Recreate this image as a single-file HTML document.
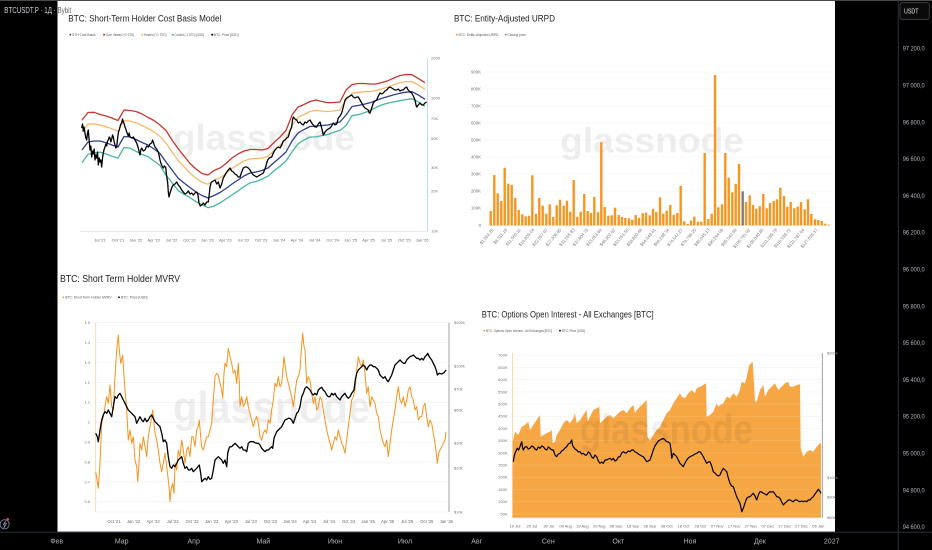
<!DOCTYPE html>
<html><head><meta charset="utf-8">
<style>
html,body{margin:0;padding:0;background:#000;width:932px;height:550px;overflow:hidden}
svg{display:block}
text{font-family:"Liberation Sans","DejaVu Sans",sans-serif}
</style></head>
<body>
<svg xmlns="http://www.w3.org/2000/svg" width="932" height="550" viewBox="0 0 932 550">
<rect x="0" y="0" width="932" height="550" fill="#000"/>
<rect x="0" y="0" width="932" height="1" fill="#4a4a4a"/>

<!-- white pasted panel -->
<rect x="57.5" y="1" width="777.5" height="530.7" fill="#fff"/>

<!-- ============ CHART 1: STH Cost Basis ============ -->
<text x="68.3" y="21.3" font-size="9" fill="#1e1e1e" textLength="153" lengthAdjust="spacingAndGlyphs">BTC: Short-Term Holder Cost Basis Model</text>
<g font-size="3.5" fill="#555">
<circle cx="70.3" cy="34.7" r="0.9" fill="#2d3f8f"/><text x="72" y="36" textLength="23.5" lengthAdjust="spacingAndGlyphs">STH Cost Basis</text>
<rect x="103.2" y="33.8" width="1.8" height="1.8" fill="#c8372d"/><text x="106" y="36" textLength="28" lengthAdjust="spacingAndGlyphs">Over Heated (+2 STD)</text>
<rect x="141.4" y="33.8" width="1.8" height="1.8" fill="#fbb868"/><text x="144" y="36" textLength="22.5" lengthAdjust="spacingAndGlyphs">Heated (+1 STD)</text>
<rect x="171.8" y="33.8" width="1.8" height="1.8" fill="#45b5a5"/><text x="174.5" y="36" textLength="29.5" lengthAdjust="spacingAndGlyphs">Cooled (-1 STD) [USD]</text>
<rect x="211.4" y="33.8" width="1.8" height="1.8" fill="#000"/><text x="214" y="36" textLength="24.5" lengthAdjust="spacingAndGlyphs">BTC: Price [USD]</text>
</g>
<line x1="80" y1="231.5" x2="427" y2="231.5" stroke="#e3e3e3" stroke-width="0.7"/>
<line x1="427.5" y1="58" x2="427.5" y2="231.5" stroke="#a7dde2" stroke-width="0.8"/>
<g font-size="4" fill="#777">
<text x="431" y="59.4">200K</text><text x="431" y="99.4">100K</text><text x="431" y="120">70K</text><text x="431" y="140">50K</text><text x="431" y="169">30K</text><text x="431" y="192.4">20K</text><text x="431" y="232.4">10K</text>
</g>
<g font-size="4" fill="#666" text-anchor="middle">
<text x="100" y="241.4">Jul '21</text><text x="117.9" y="241.4">Oct '21</text><text x="135.8" y="241.4">Jan '22</text><text x="153.7" y="241.4">Apr '22</text><text x="171.6" y="241.4">Jul '22</text><text x="189.5" y="241.4">Oct '22</text><text x="207.4" y="241.4">Jan '23</text><text x="225.3" y="241.4">Apr '23</text><text x="243.2" y="241.4">Jul '23</text><text x="261.1" y="241.4">Oct '23</text><text x="279" y="241.4">Jan '24</text><text x="296.9" y="241.4">Apr '24</text><text x="314.8" y="241.4">Jul '24</text><text x="332.7" y="241.4">Oct '24</text><text x="350.6" y="241.4">Jan '25</text><text x="368.5" y="241.4">Apr '25</text><text x="386.4" y="241.4">Jul '25</text><text x="404.3" y="241.4">Oct '25</text><text x="422.2" y="241.4">Jan '26</text>
</g>
<text x="173" y="150" font-size="36" font-weight="bold" fill="#000" fill-opacity="0.065" textLength="182" lengthAdjust="spacingAndGlyphs">glassnode</text>
<g fill="none" stroke-width="1.3" stroke-linejoin="round">
<polyline stroke="#c8372d" points="82,120 88,112.5 94,112.3 100,114.5 106,116 112,118 118,120.5 124,110 130,110.5 136,111.5 142,114 148,117.5 154,120.5 160,125 166,130.5 172,140 178,148.5 184,156 190,163.5 196,169 202,173.5 208,175 214,170.5 220,168 226,163.5 232,158 238,154 244,151 250,149.5 256,149.5 262,150 268,148.5 274,142.5 280,137 286,130.5 292,115 298,107 304,104.5 310,101.5 316,100 322,101.5 328,102.7 334,102.5 340,102 346,90 352,84.5 358,83.5 364,83.5 370,84 376,84 382,82.5 388,80.7 394,78 400,75.5 406,74.5 412,74.7 418,78.3 425,82.7"/>
<polyline stroke="#fbb868" points="82,132 88,124.3 94,123.8 100,125.1 106,126.7 112,128.8 118,131.1 124,120.6 130,121.1 136,122.7 142,125.4 148,128.5 154,131.9 160,136.4 166,143.1 172,152 178,160.3 184,166.8 190,173.1 196,178.2 202,182.3 208,184.2 214,180.5 220,177.8 226,173.5 232,168.4 238,164.4 244,161 250,158.9 256,158.5 262,158.2 268,156.3 274,150.5 280,145.2 286,139.1 292,125.4 298,117.4 304,114.5 310,111.5 316,110.4 322,111.1 328,111.6 334,110.9 340,110 346,100 352,93.3 358,92.3 364,91.8 370,91.5 376,90.6 382,88.8 388,87 394,84.7 400,82.6 406,81.6 412,81.5 418,84.9 425,89.3"/>
<polyline stroke="#2d3f8f" points="82,150 88,142 94,141 100,141 106,142.7 112,145 118,147 124,136.5 130,137 136,139.5 142,142.5 148,145 154,149 160,153.5 166,162 172,170 178,178 184,183 190,187.5 196,192 202,195.5 208,198 214,195.5 220,192.5 226,188.5 232,184 238,180 244,176 250,173 256,172 262,170.5 268,168 274,162.5 280,157.5 286,152 292,141 298,133 304,129.5 310,126.5 316,126 322,125.5 328,125 334,123.5 340,122 346,115 352,106.5 358,105.5 364,104.2 370,102.8 376,100.5 382,98.2 388,96.5 394,94.8 400,93.2 406,92.2 412,91.7 418,94.8 425,99.3"/>
<polyline stroke="#45b5a5" points="82,162.6 88,154.4 94,153.1 100,152.1 106,153.9 112,156.3 118,158.1 124,147.6 130,148.1 136,151.3 142,154.5 148,156.6 154,161 160,165.5 166,175.2 172,182.6 178,190.4 184,194.3 190,197.6 196,201.7 202,204.7 208,207.7 214,206 220,202.8 226,199 232,194.9 238,190.9 244,186.5 250,182.9 256,181.5 262,179.1 268,176.2 274,170.9 280,166.1 286,161 292,151.9 298,143.9 304,140 310,137 316,136.9 322,135.6 328,134.4 334,132.3 340,130.4 346,125.5 352,115.7 358,114.7 364,112.9 370,110.7 376,107.4 382,104.8 388,103.1 394,101.9 400,100.6 406,99.6 412,98.8 418,101.7 425,106.3"/>
<polyline stroke="#000" stroke-width="1.3" points="81.7,128 82.5,124 83.3,131 84,127 85,133 85.8,138 86.7,140 87.5,133 88.3,130 89.2,141 90,150 90.8,146 91.7,157 92.5,151 93.3,154 94.2,149 95,160 95.8,155 96.7,158 97.5,152 98.3,165 99.2,158 100,162 100.8,160 101.7,167 102.5,158 103.3,153 104.2,149 105,147 105.8,144 106.7,146 107.5,141 108.3,140 109.2,137 110,138 110.8,142 111.7,139 112.5,135 113.3,137 114.2,142 115,145 115.8,148 116.7,147 117.5,139 118.3,133 119.2,130 120,127 120.8,124 121.7,123 122.5,119 123.3,122 124.2,124 125,127 125.8,129 126.7,132 127.5,134 128.3,136 129.2,133 130,137 131.7,138 133.3,137 135,140 136.7,143 138.3,148 139.2,152 140,155 140.8,150 141.7,148 143.3,151 145,150 146.7,146 148.3,147 150,144 151.7,143 152.5,140 153.3,142 154.2,145 155,147 156.7,149 158.3,152 159.2,156 160,160 160.8,163 161.7,165 162.5,167 163.3,168 164.2,166 165,167 165.7,167 166.5,175 167.7,183 168.3,192 169,197 170,193 171,190 172,187 173.3,185 175,184 176.7,182 178.3,185 180,187 181.7,190 183.3,192 185,194 186.7,193 188.3,191 190,194 191.7,193 193.3,195 195,193 196.7,192 198,195 199,203 200.3,206 201.7,205 203.3,203 205,205 206.7,202 208.3,202 209.2,195 210,187 211,183 211.7,182 213.3,181 215,180 216.7,184 218.3,182 220,188 221.7,184 223.3,178 225,175 226.7,172 228.3,170 230,168 231.7,171 233.3,172 235,174 236.7,175 238.3,177 240,177 241.7,172 243.3,168 245,167 246.7,167 248.3,168 250,170 251.7,173 253.3,175 255,176 256.7,177 258.3,176 260,175 261.7,174 263.3,173 264.5,170 265.7,167 266.7,163 267.7,160 269.2,158 271.7,157 273.3,153 275,150 276.7,148 278.3,147 280,148 281.7,145 283.3,141 285,140 286.7,138 288.3,137 290,131 291.7,127 292.5,120 293.3,117 295,119 296.7,120 298.3,123 300,122 301.7,124 303.3,125 305,122 306.7,123 308.3,121 310,120 311.7,123 313.3,125 315,127 316.7,127 318.3,124 320,122 321.7,128 323.3,135 325,132 326.7,130 328.3,129 330,128 331.7,126 333.3,123 335,125 336.7,124 338.3,118 340,116 341.7,113 343.3,107 345,100 346.7,98 348.3,97 350,96 351.7,95 353.3,97 355,98 356.7,97 358.3,97 360,100 361.7,103 363.3,106 365,108 366.7,109 368.3,110 369.2,113 370,113 371.7,108 373.3,103 375,101 376.7,100 378.3,96 380,93 381.7,94 383.3,93 385,91 386.7,90 388.3,88 390,87 391.7,88 393.3,89 395,90 396.7,90 398.3,89 400,91 401.7,90 403.3,90 405,88 406.7,87 407.5,89 408.3,90 410,92 411.7,93 413.3,96 415,100 416,105 416.7,107 418.3,105 420,103 421.7,105 423.3,105 425,103 426.7,102"/>
</g>

<!-- ============ CHART 2: URPD ============ -->
<text x="454" y="21.3" font-size="9" fill="#1e1e1e" textLength="101" lengthAdjust="spacingAndGlyphs">BTC: Entity-Adjusted URPD</text>
<g font-size="3.5" fill="#555">
<circle cx="456.7" cy="34.7" r="0.9" fill="#f7931a"/><text x="458.5" y="36" textLength="40" lengthAdjust="spacingAndGlyphs">BTC: Entity-Adjusted URPD</text>
<circle cx="505.7" cy="34.7" r="0.9" fill="#888"/><text x="507.5" y="36" textLength="18.5" lengthAdjust="spacingAndGlyphs">Closing price</text>
</g>
<g stroke="#efefef" stroke-width="0.6">
<line x1="485" y1="72" x2="832" y2="72"/><line x1="485" y1="89" x2="832" y2="89"/><line x1="485" y1="106" x2="832" y2="106"/><line x1="485" y1="123" x2="832" y2="123"/><line x1="485" y1="140" x2="832" y2="140"/><line x1="485" y1="157" x2="832" y2="157"/><line x1="485" y1="174" x2="832" y2="174"/><line x1="485" y1="191" x2="832" y2="191"/><line x1="485" y1="208" x2="832" y2="208"/><line x1="485" y1="225.5" x2="832" y2="225.5"/>
</g>
<g font-size="4.3" fill="#777" text-anchor="end">
<text x="481" y="73.5">900K</text><text x="481" y="90.5">800K</text><text x="481" y="107.5">700K</text><text x="481" y="124.5">600K</text><text x="481" y="141.5">500K</text><text x="481" y="158.5">400K</text><text x="481" y="175.5">300K</text><text x="481" y="192.5">200K</text><text x="481" y="209.5">100K</text><text x="481" y="227">0</text>
</g>
<text x="560" y="152.5" font-size="35" font-weight="bold" fill="#000" fill-opacity="0.065" textLength="184" lengthAdjust="spacingAndGlyphs">glassnode</text>
<g fill="#f7961f">
<rect x="489.5" y="211" width="2.4" height="14.5"/><rect x="493.1" y="175" width="2.4" height="50.5"/><rect x="496.5" y="193.3" width="2.4" height="32.2"/><rect x="500.1" y="201" width="2.4" height="24.5"/><rect x="503.5" y="167.7" width="2.4" height="57.8"/><rect x="507.1" y="183.7" width="2.4" height="41.8"/><rect x="510.5" y="185" width="2.4" height="40.5"/><rect x="514.1" y="198" width="2.4" height="27.5"/><rect x="517.5" y="210" width="2.4" height="15.5"/><rect x="521.1" y="214.3" width="2.4" height="11.2"/>
<rect x="524.5" y="216.3" width="2.4" height="9.2"/><rect x="527.8" y="215.7" width="2.4" height="9.8"/><rect x="531.1" y="175.3" width="2.4" height="50.2"/><rect x="534.8" y="214" width="2.4" height="11.5"/><rect x="538.1" y="198" width="2.4" height="27.5"/><rect x="541.5" y="205.7" width="2.4" height="19.8"/><rect x="545.1" y="213.7" width="2.4" height="11.8"/><rect x="548.5" y="204.3" width="2.4" height="21.2"/><rect x="552.1" y="217" width="2.4" height="8.5"/><rect x="555.5" y="205.3" width="2.4" height="20.2"/>
<rect x="558.8" y="199.7" width="2.4" height="25.8"/><rect x="562.5" y="205.7" width="2.4" height="19.8"/><rect x="565.8" y="200.7" width="2.4" height="24.8"/><rect x="569.1" y="211.7" width="2.4" height="13.8"/><rect x="572.5" y="180" width="2.4" height="45.5"/><rect x="576.1" y="216.7" width="2.4" height="8.8"/><rect x="579.5" y="211.7" width="2.4" height="13.8"/><rect x="583.1" y="194" width="2.4" height="31.5"/><rect x="586.5" y="211" width="2.4" height="14.5"/><rect x="589.8" y="213" width="2.4" height="12.5"/>
<rect x="593.1" y="197" width="2.4" height="28.5"/><rect x="596.8" y="212.3" width="2.4" height="13.2"/><rect x="600.1" y="142.3" width="2.4" height="83.2"/><rect x="603.5" y="207" width="2.4" height="18.5"/><rect x="607.1" y="215.7" width="2.4" height="9.8"/><rect x="610.5" y="215.3" width="2.4" height="10.2"/><rect x="613.8" y="207.7" width="2.4" height="17.8"/><rect x="617.5" y="215" width="2.4" height="10.5"/><rect x="620.8" y="217" width="2.4" height="8.5"/><rect x="624.1" y="218" width="2.4" height="7.5"/>
<rect x="627.8" y="218.3" width="2.4" height="7.2"/><rect x="631.1" y="219.7" width="2.4" height="5.8"/><rect x="634.5" y="215" width="2.4" height="10.5"/><rect x="637.8" y="217.7" width="2.4" height="7.8"/><rect x="641.5" y="213.3" width="2.4" height="12.2"/><rect x="644.8" y="212.7" width="2.4" height="12.8"/><rect x="648.5" y="215.3" width="2.4" height="10.2"/><rect x="651.8" y="209" width="2.4" height="16.5"/><rect x="655.1" y="212" width="2.4" height="13.5"/><rect x="658.8" y="197.3" width="2.4" height="28.2"/>
<rect x="662.1" y="213.7" width="2.4" height="11.8"/><rect x="665.5" y="210.7" width="2.4" height="14.8"/><rect x="669.1" y="205" width="2.4" height="20.5"/><rect x="672.5" y="214.7" width="2.4" height="10.8"/><rect x="676.1" y="213" width="2.4" height="12.5"/><rect x="679.5" y="186" width="2.4" height="39.5"/><rect x="683.1" y="221.3" width="2.4" height="4.2"/><rect x="686.5" y="224" width="2.4" height="1.5"/><rect x="689.8" y="220.7" width="2.4" height="4.8"/><rect x="693.1" y="216.7" width="2.4" height="8.8"/>
<rect x="696.8" y="221.7" width="2.4" height="3.8"/><rect x="700.1" y="221.7" width="2.4" height="3.8"/><rect x="703.5" y="153" width="2.4" height="72.5"/><rect x="707.1" y="219" width="2.4" height="6.5"/><rect x="710.5" y="213.7" width="2.4" height="11.8"/><rect x="713.8" y="75" width="2.4" height="150.5"/><rect x="717.1" y="207.3" width="2.4" height="18.2"/><rect x="720.8" y="204.3" width="2.4" height="21.2"/><rect x="724.1" y="153" width="2.4" height="72.5"/><rect x="727.5" y="177.7" width="2.4" height="47.8"/>
<rect x="731.1" y="192.3" width="2.4" height="33.2"/><rect x="734.5" y="184" width="2.4" height="41.5"/><rect x="737.8" y="164" width="2.4" height="61.5"/><rect x="741.5" y="191.3" width="2.4" height="34.2" fill="#7d7d7d"/><rect x="744.8" y="202" width="2.4" height="23.5"/><rect x="748.5" y="195.3" width="2.4" height="30.2"/><rect x="751.8" y="205" width="2.4" height="20.5"/><rect x="755.1" y="208.7" width="2.4" height="16.8"/><rect x="758.5" y="206.3" width="2.4" height="19.2"/><rect x="762.1" y="194" width="2.4" height="31.5"/>
<rect x="765.5" y="208.3" width="2.4" height="17.2"/><rect x="768.8" y="203" width="2.4" height="22.5"/><rect x="772.5" y="201" width="2.4" height="24.5"/><rect x="775.8" y="199.3" width="2.4" height="26.2"/><rect x="779.1" y="187.7" width="2.4" height="37.8"/><rect x="782.8" y="196" width="2.4" height="29.5"/><rect x="786.1" y="206.7" width="2.4" height="18.8"/><rect x="789.5" y="202" width="2.4" height="23.5"/><rect x="793.1" y="208.3" width="2.4" height="17.2"/><rect x="796.5" y="206.7" width="2.4" height="18.8"/>
<rect x="799.8" y="202" width="2.4" height="23.5"/><rect x="803.5" y="209.3" width="2.4" height="16.2"/><rect x="806.8" y="199.3" width="2.4" height="26.2"/><rect x="810.1" y="214" width="2.4" height="11.5"/><rect x="813.8" y="219.3" width="2.4" height="6.2"/><rect x="817.1" y="220" width="2.4" height="5.5"/><rect x="820.5" y="221" width="2.4" height="4.5"/><rect x="824.1" y="223.7" width="2.4" height="1.8"/><rect x="827.5" y="224.7" width="2.4" height="0.8"/>
</g>
<g font-size="4.3" fill="#777" text-anchor="end">
<text transform="translate(494,230) rotate(-50)">$1,062.25</text>
<text transform="translate(507.5,230) rotate(-50)">$6,311.18</text>
<text transform="translate(521,230) rotate(-50)">$11,560.11</text>
<text transform="translate(534.5,230) rotate(-50)">$16,809.04</text>
<text transform="translate(548,230) rotate(-50)">$22,057.97</text>
<text transform="translate(561.5,230) rotate(-50)">$27,306.90</text>
<text transform="translate(575,230) rotate(-50)">$32,555.83</text>
<text transform="translate(588.5,230) rotate(-50)">$37,804.76</text>
<text transform="translate(602,230) rotate(-50)">$43,053.69</text>
<text transform="translate(615.5,230) rotate(-50)">$48,302.62</text>
<text transform="translate(629,230) rotate(-50)">$53,551.55</text>
<text transform="translate(642.5,230) rotate(-50)">$58,800.48</text>
<text transform="translate(656,230) rotate(-50)">$64,049.41</text>
<text transform="translate(669.5,230) rotate(-50)">$69,298.34</text>
<text transform="translate(683,230) rotate(-50)">$74,547.27</text>
<text transform="translate(696.5,230) rotate(-50)">$79,796.20</text>
<text transform="translate(710,230) rotate(-50)">$85,045.13</text>
<text transform="translate(723.5,230) rotate(-50)">$90,294.06</text>
<text transform="translate(737,230) rotate(-50)">$95,542.99</text>
<text transform="translate(750.5,230) rotate(-50)">$100,791.92</text>
<text transform="translate(764,230) rotate(-50)">$106,040.85</text>
<text transform="translate(777.5,230) rotate(-50)">$111,289.78</text>
<text transform="translate(791,230) rotate(-50)">$116,538.71</text>
<text transform="translate(804.5,230) rotate(-50)">$121,787.64</text>
<text transform="translate(818,230) rotate(-50)">$127,036.57</text>
</g>

<!-- ============ CHART 3: STH MVRV ============ -->
<text x="60" y="282" font-size="10" fill="#1e1e1e" textLength="120" lengthAdjust="spacingAndGlyphs">BTC: Short Term Holder MVRV</text>
<g font-size="3.5" fill="#555">
<circle cx="63.3" cy="297.3" r="0.9" fill="#f7931a"/><text x="65.2" y="298.6" textLength="46.5" lengthAdjust="spacingAndGlyphs">BTC: Short Term Holder MVRV</text>
<circle cx="119" cy="297.3" r="0.9" fill="#000"/><text x="121" y="298.6" textLength="26.5" lengthAdjust="spacingAndGlyphs">BTC: Price [USD]</text>
</g>
<g stroke="#eeeeee" stroke-width="0.6">
<line x1="95" y1="322.7" x2="447" y2="322.7"/><line x1="95" y1="342.6" x2="447" y2="342.6"/><line x1="95" y1="362.5" x2="447" y2="362.5"/><line x1="95" y1="382.4" x2="447" y2="382.4"/><line x1="95" y1="402.3" x2="447" y2="402.3"/><line x1="95" y1="422.2" x2="447" y2="422.2"/><line x1="95" y1="442.1" x2="447" y2="442.1"/><line x1="95" y1="462" x2="447" y2="462"/><line x1="95" y1="481.9" x2="447" y2="481.9"/><line x1="95" y1="501.8" x2="447" y2="501.8"/><line x1="95" y1="512" x2="447" y2="512"/>
</g>
<line x1="95.7" y1="322.5" x2="95.7" y2="512" stroke="#fbd09a" stroke-width="0.8"/>
<line x1="449" y1="322.5" x2="449" y2="512" stroke="#8a8a8a" stroke-width="0.8"/>
<g font-size="4" fill="#777" text-anchor="end">
<text x="90" y="324.1">1.5</text><text x="90" y="344">1.4</text><text x="90" y="363.9">1.3</text><text x="90" y="383.8">1.2</text><text x="90" y="403.7">1.1</text><text x="90" y="423.6">1</text><text x="90" y="443.5">0.9</text><text x="90" y="463.4">0.8</text><text x="90" y="483.3">0.7</text><text x="90" y="503.2">0.6</text>
</g>
<g font-size="4" fill="#777">
<text x="454" y="324.1">$200k</text><text x="454" y="367.4">$100k</text><text x="454" y="390.4">$70k</text><text x="454" y="411.4">$50k</text><text x="454" y="444.4">$30k</text><text x="454" y="469.4">$20k</text><text x="454" y="513.4">$10k</text>
</g>
<g font-size="4.2" fill="#666" text-anchor="middle">
<text x="114" y="523.2">Oct '21</text><text x="133.5" y="523.2">Jan '22</text><text x="153.1" y="523.2">Apr '22</text><text x="172.6" y="523.2">Jul '22</text><text x="192.2" y="523.2">Oct '22</text><text x="211.7" y="523.2">Jan '23</text><text x="231.3" y="523.2">Apr '23</text><text x="250.8" y="523.2">Jul '23</text><text x="270.4" y="523.2">Oct '23</text><text x="290" y="523.2">Jan '24</text><text x="309.5" y="523.2">Apr '24</text><text x="329" y="523.2">Jul '24</text><text x="348.6" y="523.2">Oct '24</text><text x="368.1" y="523.2">Jan '25</text><text x="387.7" y="523.2">Apr '25</text><text x="407.2" y="523.2">Jul '25</text><text x="426.8" y="523.2">Oct '25</text><text x="446.3" y="523.2">Jan '26</text>
</g>
<text x="173" y="422" font-size="44" font-weight="bold" fill="#000" fill-opacity="0.065" textLength="197" lengthAdjust="spacingAndGlyphs">glassnode</text>
<polyline fill="none" stroke="#f7931a" stroke-width="1" stroke-linejoin="round" points="95.7,471.7 98.3,488.3 100,463.3 101.7,423.3 103.3,416.7 105,406.7 106.7,396.7 108.3,403.3 110,385 111.7,406.7 113.3,410 115,376.7 116.7,350 118.3,335 119.3,350 120.7,363.3 122.7,355 124,376.7 125,390 126.7,410 128.3,440 130,430 131.7,443.3 133.3,436.7 135,460 136.7,466.7 137.7,481.7 139,463.3 140,443.3 141.7,450 143.3,436.7 145,446.7 146.7,456.7 148.3,436.7 150,426.7 151.7,416.7 152.7,410 154,423.3 155,433.3 156.7,440 158.3,450 160,463.3 161.7,471.7 163.3,463.3 165,453.3 166.7,466.7 168.3,480 169.3,490 170,501.7 171,490 172.7,483.3 174,493.3 175,463.3 176.7,470 178.3,450 180,456.7 181.7,440 183.3,450 185,463.3 186.7,450 188.3,446.7 190,456.7 191.7,436.7 193.3,436.7 195,446.7 196.7,430 198.3,426.7 199.3,420 200.7,436.7 201.7,446.7 203.3,450 205,443.3 206.7,436.7 208.3,436.7 210,430 211.7,423.3 213.3,400 215,376.7 216.7,373.3 218.3,375 220,383.3 221.7,390 222.7,398.3 224,373.3 225,363.3 226.7,366.7 228.3,348.3 230,356.7 231.7,363.3 233.3,373.3 235,370 236.7,383.3 238.3,363.3 239.3,383.3 240,406.7 241.7,396.7 243.3,406.7 245,403.3 246.7,396.7 248.3,406.7 250,413.3 251.7,420 253.3,426.7 255,420 256.7,416.7 258.3,423.3 260,436.7 261.7,440 263.3,433.3 265,430 266.7,433.3 268.3,420 270,423.3 271.7,410 273.3,400 275,383.3 276.7,386.7 278.3,376.7 280,386.7 281.7,383.3 284,356.7 285.3,366.7 286.7,376.7 288.3,383.3 290,390 291.7,396.7 293.3,406.7 295,393.3 296.7,380 298.3,376.7 300,370 301.3,350 302.7,333.3 304,346.7 305,350 306,370 306.7,383.3 308.3,376.7 310,380 311.7,393.3 313.3,403.3 315,396.7 316.7,410 318.3,406.7 320,396.7 321.7,400 323.3,410 325,420 326.7,430 328.3,436.7 330,443.3 331.7,450 333.3,443.3 335,436.7 336.7,440 338.3,430 340,436.7 341.7,443.3 343.3,446.7 345,453.3 346.7,440 348.3,426.7 350,413.3 351.7,400 353.3,396.7 355,390 356.7,370 358.3,356.7 360,363.3 361.7,366.7 363.3,360 365,373.3 366.7,393.3 368.3,386.7 370,406.7 371.7,396.7 373.3,400 375,403.3 376.7,413.3 378.3,416.7 380,430 381.7,436.7 383.3,443.3 385,446.7 386.7,440 388.3,456.7 390,443.3 391.7,430 393.3,420 395,410 396.7,396.7 398.3,386.7 400,400 401.7,403.3 403.3,396.7 405,406.7 406.7,400 408.3,390 410,386.7 411.7,396.7 413.3,400 415,410 416.7,406.7 418.3,420 420,416.7 421.7,416.7 423.3,406.7 425,403.3 426.7,416.7 428.3,426.7 430,420 431.7,423.3 433.3,433.3 435,443.3 436.7,456.7 437.3,463.3 438.7,453.3 440,450 441.7,446.7 443.3,443.3 445,440 446,431.7"/>
<polyline fill="none" stroke="#000" stroke-width="1.3" stroke-linejoin="round" points="95.7,433.3 97.3,436.7 98.3,441.7 100,430 101.7,420 103.3,415 105,411.7 106.7,413.3 108.3,410 110,413.3 111.7,416.7 113.3,406.7 115,396.7 116.7,398.3 118.3,395 120,393.3 121.7,396.7 123.3,400 125,403.3 126.7,406.7 128.3,410 130,411.7 131.7,413.3 133.3,415 135,416.7 136.7,423.3 138.3,420 140,416.7 141.7,420 143.3,421.7 145,418.3 146.7,421.7 148.3,420 150,416.7 151.7,415 153.3,418.3 155,421.7 156.7,423.3 158.3,425 160,426.7 161.7,433.3 163.3,441.7 165,440 166.7,443.3 168.3,456.7 170,466.7 171.7,468.3 173.3,465 175,466.7 176.7,463.3 178.3,460 180,458.3 181.7,456.7 183.3,463.3 185,468.3 186.7,466.7 188.3,470 190,470 191.7,468.3 193.3,471.7 195,470 196.7,468.3 199.3,465 200.7,473.3 201.7,481.7 203.3,480 205,478.3 206.7,480 208.3,476.7 210,479.3 211.7,478.3 213.3,470 215,460 216.7,458.3 218.3,456.7 220,458.3 221.7,460 223.3,463.3 225,460 226.7,466.7 227.7,453.3 229,448.3 230,446.7 231.7,446.7 233.3,445 235,443.3 236.7,445 238.3,446.7 240,448.3 241.7,446.7 243.3,450 245,450 246.7,451.7 248.3,443.3 250,441.7 251.7,441.7 253.3,441.7 255,442.7 256.7,443.3 258.3,443.3 260,445 261.7,448.3 263.3,450 265,451.7 266.7,450 268.3,450 270,448.3 271.7,446.7 272.7,448.3 274,438.3 275.3,435 276.7,431.7 278.3,430 280,428.3 281.7,426.7 283.3,423.3 285,420 286.7,419.3 288.3,418.3 290,418.3 291.7,420 293.3,423.3 295,418.3 296.7,413.3 298.3,411.7 300,406.7 301.7,396.7 303.3,393.3 305,388.3 306.7,386.7 308.3,388.3 310,390 311.7,393.3 313.3,395 315,393.3 316.7,395 318.3,390 320,388.3 321.7,387.3 323.3,390 325,391.7 326.7,395 328.3,396.7 330,396.7 331.7,393.3 333.3,395 335,393.3 336.7,396.7 338.3,398.3 340,400 341.7,396.7 343.3,395 345,393.3 346.7,396.7 348.3,398.3 350,396.7 351.7,393.3 354,390 355.3,380 356.7,373.3 358.3,370 360,368.3 361.7,366.7 363.3,365 365,366.7 366.7,370 368.3,366.7 370,365 371.7,365 373.3,366.7 375,366.7 376.7,368.3 378.3,370 380,375 381.7,376.7 383.3,378.3 385,376.7 386.7,380 388.3,381.7 390,378.3 391.7,375 393.3,370 395,365 396.7,363.3 398.3,361.7 400,360 401.7,361.7 403.3,363.3 405,363.3 406.7,360 408.3,358.3 410,356.7 411.7,356 413.3,355 415,356.7 416.7,358.3 418.3,358.3 420,360 421.7,358.3 423.3,360 425,356.7 426.7,355 427.7,353.3 429.3,356.7 431.7,360 433.3,363.3 435,366.7 436.7,371.7 437.3,375 439.3,373.3 441.7,374 444,372.7 446,370"/>

<!-- ============ CHART 4: Options OI ============ -->
<text x="481.7" y="317.5" font-size="9.5" fill="#1e1e1e" textLength="172" lengthAdjust="spacingAndGlyphs">BTC: Options Open Interest - All Exchanges [BTC]</text>
<g font-size="3.5" fill="#555">
<circle cx="484.3" cy="330.7" r="0.9" fill="#f7931a"/><text x="486.2" y="332" textLength="66" lengthAdjust="spacingAndGlyphs">BTC: Options Open Interest - All Exchanges [BTC]</text>
<circle cx="560" cy="330.7" r="0.9" fill="#000"/><text x="562" y="332" textLength="23" lengthAdjust="spacingAndGlyphs">BTC: Price [USD]</text>
</g>
<g stroke="#f0f0f0" stroke-width="0.6">
<line x1="512" y1="355.3" x2="822" y2="355.3"/><line x1="512" y1="367.5" x2="822" y2="367.5"/><line x1="512" y1="379.7" x2="822" y2="379.7"/><line x1="512" y1="391.9" x2="822" y2="391.9"/><line x1="512" y1="404.1" x2="822" y2="404.1"/><line x1="512" y1="416.3" x2="822" y2="416.3"/><line x1="512" y1="428.5" x2="822" y2="428.5"/><line x1="512" y1="440.7" x2="822" y2="440.7"/><line x1="512" y1="452.9" x2="822" y2="452.9"/><line x1="512" y1="465.1" x2="822" y2="465.1"/><line x1="512" y1="477.3" x2="822" y2="477.3"/><line x1="512" y1="489.5" x2="822" y2="489.5"/><line x1="512" y1="501.7" x2="822" y2="501.7"/><line x1="512" y1="513.9" x2="822" y2="513.9"/>
</g>
<line x1="512.5" y1="353" x2="512.5" y2="518" stroke="#fbd09a" stroke-width="0.8"/>
<polygon fill="#f7a644" points="512.7,441.7 515,431.7 518.3,435 521.7,426.7 525,425 528.3,421.7 530,430 533.3,425 536.7,420 540,415 540.7,436.7 543.3,435 546.7,433.3 550,431.7 551.7,430 552.7,443.3 555,441.7 556.7,435 560,430 563.3,423.3 566.7,420 570,423.3 573.3,418.3 575,413.3 576.7,423.3 580,420 583.3,415 586.7,410 587.7,421.7 590,416.7 593.3,410 596.7,408.3 599.3,406.7 600,423.3 603.3,420 606.7,416.7 610,415 613.3,418.3 616.7,415 620,411.7 623.3,410 626.7,413.3 630,408.3 633.3,405 635,413.3 636.7,410 640,406.7 643.3,403.3 646.7,400 647.3,436.7 650,440 653.3,435 656.7,430 660,426.7 663.3,420 666.7,413.3 670,410 673.3,403.3 676.7,398.3 680,393.3 681.7,396.7 685,398.3 688.3,393.3 691.7,390 695,393.3 696.7,388.3 700,386.7 703.3,385 706,383.3 706.7,416.7 710,415 713.3,411.7 716.7,403.3 718.3,406.7 720,405 723.3,403.3 726.7,396.7 730,398.3 733.3,393.3 736.7,396.7 740,390 741.7,381.7 745,383.3 746.7,376.7 749.3,365 752.7,361.7 754,383.3 755,401.7 756.7,401.7 760,390 763.3,385 765,396.7 768.3,390 771.7,386.7 775,383.3 778.3,390 781.7,386.7 785,383.3 788.3,381.7 790,386.7 793.3,386.7 796.7,385 800,384.3 800.7,448.3 803.3,456.7 806.7,451.7 810,450 813.3,451.7 816.7,446.7 820,443.3 821,443.3 821,517.7 512.7,517.7"/>
<g stroke="#ffffff" stroke-opacity="0.18" stroke-width="0.6">
<line x1="513" y1="440.7" x2="821" y2="440.7"/><line x1="513" y1="452.9" x2="821" y2="452.9"/><line x1="513" y1="465.1" x2="821" y2="465.1"/><line x1="513" y1="477.3" x2="821" y2="477.3"/><line x1="513" y1="489.5" x2="821" y2="489.5"/><line x1="513" y1="501.7" x2="821" y2="501.7"/><line x1="513" y1="513.9" x2="821" y2="513.9"/><line x1="513" y1="428.5" x2="821" y2="428.5"/><line x1="513" y1="416.3" x2="821" y2="416.3"/><line x1="513" y1="404.1" x2="821" y2="404.1"/>
</g>
<line x1="822.3" y1="353" x2="822.3" y2="518" stroke="#8a8a8a" stroke-width="0.8"/>
<g font-size="4" fill="#777" text-anchor="end">
<text x="507.5" y="356.7">700K</text><text x="507.5" y="368.9">650K</text><text x="507.5" y="381.1">600K</text><text x="507.5" y="393.3">550K</text><text x="507.5" y="405.5">500K</text><text x="507.5" y="417.7">450K</text><text x="507.5" y="429.9">400K</text><text x="507.5" y="442.1">350K</text><text x="507.5" y="454.3">300K</text><text x="507.5" y="466.5">250K</text><text x="507.5" y="478.7">200K</text><text x="507.5" y="490.9">150K</text><text x="507.5" y="503.1">100K</text><text x="507.5" y="515.3">50K</text>
</g>
<g font-size="4" fill="#777">
<text x="827" y="354.7">$200k</text><text x="827" y="479">$100k</text><text x="827" y="498.4">$90k</text><text x="827" y="519.2">$80k</text>
</g>
<g font-size="4" fill="#666" text-anchor="middle">
<text x="515" y="527.7">10 Jul</text><text x="531.9" y="527.7">20 Jul</text><text x="548.7" y="527.7">30 Jul</text><text x="565.6" y="527.7">09 Aug</text><text x="582.4" y="527.7">19 Aug</text><text x="599.3" y="527.7">29 Aug</text><text x="616.1" y="527.7">08 Sep</text><text x="633" y="527.7">18 Sep</text><text x="649.8" y="527.7">28 Sep</text><text x="666.7" y="527.7">08 Oct</text><text x="683.5" y="527.7">18 Oct</text><text x="700.4" y="527.7">28 Oct</text><text x="717.2" y="527.7">07 Nov</text><text x="734.1" y="527.7">17 Nov</text><text x="750.9" y="527.7">27 Nov</text><text x="767.8" y="527.7">07 Dec</text><text x="784.6" y="527.7">17 Dec</text><text x="801.5" y="527.7">27 Dec</text><text x="818.3" y="527.7">06 Jan</text>
</g>
<text x="580" y="443.6" font-size="42" font-weight="bold" fill="#000" fill-opacity="0.06" textLength="173" lengthAdjust="spacingAndGlyphs">glassnode</text>
<polyline fill="none" stroke="#000" stroke-width="1.2" stroke-linejoin="round" points="513.3,461.7 514.2,456 515,453.3 516,451 517.3,448.3 518.6,450 520,446.7 521.7,441.7 522.5,447 523.3,450 525,447 526.7,446.7 528.3,449 530,448.3 531.7,446 533.3,446.7 535,449 536.7,450 538.3,447 540,448.3 541.7,446 543.3,446.7 545,449 546.7,450 548.3,447 550,448.3 551.7,450 553.3,450 555,455 556.7,456.7 558.3,454 560,453.3 561.7,451 563.3,450 565,448 566.7,446.7 568.3,444 570,443.3 571.7,440 572.5,445 573.3,446.7 575,449 576.7,450 578.3,452 580,451.7 581.7,454 583.3,453.3 585,455 586.7,455 588.3,452 590,453.3 591.7,457 593.3,458.3 595,455 596.7,456.7 598.3,461 600,463.3 601.7,462 603.3,463.3 605,460 606.7,460 608.3,459 610,458.3 611.7,460 613.3,458.3 615,461 616.7,460 618.3,457 620,456.7 621.7,453 623.3,451.7 625,453 626.7,452.7 628.3,451 630,451.7 631.7,450 633.3,450 635,452 636.7,452.7 638.3,454 640,455 641.7,456 643.3,456.7 645,459 646.7,461.7 648.3,461 650,460 651.7,455 653.3,450 655,446 656.7,443.3 658.3,441 660,440 661.7,439 663.3,438.3 665,440 666.7,441.7 668.3,442 670,443.3 671,450 671.7,458.3 673.3,453.3 675,455 676.7,456.7 678.3,460 680,463.3 681.7,465 683.3,466.7 685,463 686.7,460 688.3,458 690,456.7 691.7,456 693.3,455 695,454 696.7,453.3 698.3,452 700,451.7 701.7,454 703.3,456.7 705,460 706.7,463.3 708.3,462 710,461.7 711.7,466 713.3,471.7 715,473 716.7,475 718.3,476 720,475 721.7,471 723.3,468.3 725,470 726.7,471.7 728.3,478 730,483.3 731.7,486 733.3,486.7 735,492 736.7,496.7 738.3,500 740,503.3 741,508 741.7,511.7 742.5,510 743.3,508.3 745,503 746.7,498.3 748.3,497 750,496.7 751.7,495 753.3,493.3 755,496 756.7,500 758.3,495 760,491.7 761.7,492 763.3,493.3 765,494 766.7,495 768.3,493 770,491.7 771.7,492 773.3,491.7 775,494 776.7,496.7 778.3,497 780,498.3 781.7,502 783.3,505 785,503 786.7,501.7 788.3,500 790,500 791.7,501 793.3,501.7 795,500 796.7,500 798.3,501 800,501.7 801.7,501 803.3,501.7 805,501 806.7,501.7 808.3,500 810,500 811.7,498 813.3,496.7 815,494 816.7,491.7 818.3,489.3 819.7,491 821,493.3"/>

<!-- ============ TradingView chrome ============ -->
<text x="4.3" y="12.8" font-size="8" fill="#d1d4dc" textLength="67" lengthAdjust="spacingAndGlyphs">BTCUSDT.P · 1Д · Bybit</text>
<clipPath id="cw"><rect x="57.5" y="0" width="30" height="20"/></clipPath>
<text x="4.3" y="12.8" font-size="8" fill="#6f6f6f" textLength="67" lengthAdjust="spacingAndGlyphs" clip-path="url(#cw)">BTCUSDT.P · 1Д · Bybit</text>

<!-- right price axis -->
<line x1="898.3" y1="0" x2="898.3" y2="550" stroke="#2a2e39" stroke-width="1"/>
<line x1="0" y1="532.3" x2="932" y2="532.3" stroke="#2a2e39" stroke-width="1"/>
<rect x="900" y="2.7" width="29.3" height="16.6" rx="2.2" fill="#0a0a0a" stroke="#434651" stroke-width="0.8"/>
<text x="904" y="13.7" font-size="7.5" fill="#e6e6e6" textLength="14.5" lengthAdjust="spacingAndGlyphs">USDT</text>
<g font-size="6.8" fill="#b2b5be">
<text x="902.7" y="50.7" textLength="22" lengthAdjust="spacingAndGlyphs">97 200,0</text>
<text x="902.7" y="87.5" textLength="22" lengthAdjust="spacingAndGlyphs">97 000,0</text>
<text x="902.7" y="124.3" textLength="22" lengthAdjust="spacingAndGlyphs">96 800,0</text>
<text x="902.7" y="161.1" textLength="22" lengthAdjust="spacingAndGlyphs">96 600,0</text>
<text x="902.7" y="197.9" textLength="22" lengthAdjust="spacingAndGlyphs">96 400,0</text>
<text x="902.7" y="234.7" textLength="22" lengthAdjust="spacingAndGlyphs">96 200,0</text>
<text x="902.7" y="271.5" textLength="22" lengthAdjust="spacingAndGlyphs">96 000,0</text>
<text x="902.7" y="308.3" textLength="22" lengthAdjust="spacingAndGlyphs">95 800,0</text>
<text x="902.7" y="345.1" textLength="22" lengthAdjust="spacingAndGlyphs">95 600,0</text>
<text x="902.7" y="381.9" textLength="22" lengthAdjust="spacingAndGlyphs">95 400,0</text>
<text x="902.7" y="418.7" textLength="22" lengthAdjust="spacingAndGlyphs">95 200,0</text>
<text x="902.7" y="455.5" textLength="22" lengthAdjust="spacingAndGlyphs">95 000,0</text>
<text x="902.7" y="492.3" textLength="22" lengthAdjust="spacingAndGlyphs">94 800,0</text>
<text x="902.7" y="529.1" textLength="22" lengthAdjust="spacingAndGlyphs">94 600,0</text>
</g>

<!-- bottom time axis -->
<g font-size="7" fill="#b2b5be" text-anchor="middle">
<text x="56.7" y="543.5">Фев</text><text x="121.7" y="543.5">Мар</text><text x="193.7" y="543.5">Апр</text><text x="263.3" y="543.5">Май</text><text x="335" y="543.5">Июн</text><text x="405" y="543.5">Июл</text><text x="476.7" y="543.5">Авг</text><text x="548.3" y="543.5">Сен</text><text x="618.3" y="543.5">Окт</text><text x="690" y="543.5">Ноя</text><text x="760" y="543.5">Дек</text><text x="831.7" y="543.5">2027</text>
</g>

<!-- bottom-left icon -->
<circle cx="4.6" cy="524.3" r="4.6" fill="none" stroke="#7f83a8" stroke-width="0.9"/>
<path d="M5.6,520.6 L3.2,524.8 L5,524.8 L3.8,528.2 L6.4,523.6 L4.6,523.6 Z" fill="none" stroke="#9a9ec0" stroke-width="0.6"/>
<circle cx="7.6" cy="519.3" r="1.4" fill="#f23645"/>
</svg>
</body></html>
